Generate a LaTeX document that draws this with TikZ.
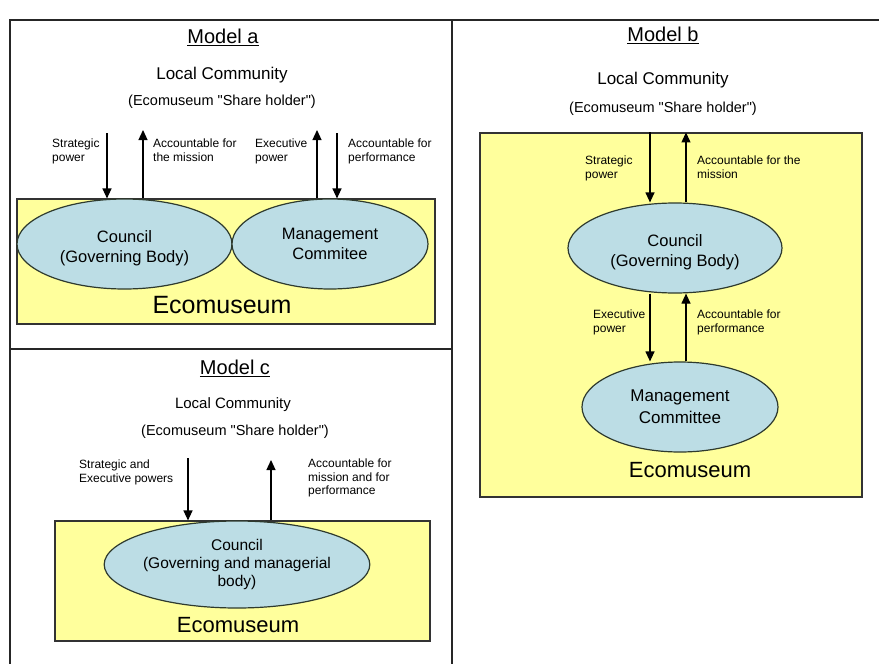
\documentclass[tikz,border=0pt]{standalone}
\usepackage{fontspec}
\setmainfont{Liberation Sans}
\usetikzlibrary{arrows.meta,shapes.geometric}
\definecolor{ecoyellow}{HTML}{FFFF9C}
\definecolor{bodyblue}{HTML}{BCDDE5}
\definecolor{bodyedge}{HTML}{2E3A2E}
\newcommand{\sq}{\textquotedbl}
% two centred lines set a little below the middle of an ellipse
\newcommand{\lowpair}[2]{\raisebox{-9pt}[0pt][0pt]{\parbox{150pt}{\centering #1\\#2}}}
\begin{document}
\begin{tikzpicture}[x=1pt,y=-1pt,
  frame/.style={line width=1.4pt, draw=black!85},
  yellowbox/.style={rectangle, draw=black!80, line width=1.1pt, fill=ecoyellow, inner sep=0pt},
  body/.style={ellipse, draw=bodyedge, line width=1.2pt, fill=bodyblue, inner sep=0pt, align=center,
    font=\fontsize{16.5}{20}\selectfont},
  flow/.style={-{Triangle[length=10pt,width=9pt]}, line width=1.2pt},
  note/.style={font=\fontsize{12}{13.5}\selectfont, align=left, anchor=north west, inner sep=0pt},
  modeltitle/.style={font=\fontsize{20}{24}\selectfont, inner sep=0pt},
  community/.style={font=\fontsize{17}{20}\selectfont, inner sep=0pt},
  holder/.style={font=\fontsize{14.5}{17}\selectfont, inner sep=0pt},
  eco/.style={font=\fontsize{22}{26}\selectfont, inner sep=0pt}]
\useasboundingbox (0,0) rectangle (879,664);

% panel frames
\draw[frame] (10,664) -- (10,20) -- (879,20);
\draw[frame] (452,20) -- (452,664);
\draw[frame] (10,349) -- (452,349);

% ---------------- Model a ----------------
\node[modeltitle] (ta) at (223,37) {\underline{Model a}};
\node[community] (lca) at (222,75) {Local Community};
\node[holder] (sha) at (222,102) {(Ecomuseum \sq Share holder\sq)};
\node[yellowbox, minimum width=418pt, minimum height=125pt] (ra) at (226,261.5) {};
\node[body, minimum width=215pt, minimum height=90pt] (ca) at (124.5,244) {\lowpair{Council}{(Governing Body)}};
\node[body, minimum width=196pt, minimum height=90pt] (ma) at (330,244) {Management\\Commitee};
\node[eco, font=\fontsize{25}{30}\selectfont] (ea) at (222,305) {Ecomuseum};
\coordinate (a1) at (107,133);
\coordinate (a2) at (143,130);
\coordinate (a3) at (317,130);
\coordinate (a4) at (337,133);
\draw[flow] (a1) -- (a1 |- ra.north);
\draw[flow] (a2 |- ra.north) -- (a2);
\draw[flow] (a3 |- ra.north) -- (a3);
\draw[flow] (a4) -- (a4 |- ra.north);
\node[note] (na1) at (52,139) {Strategic\\power};
\node[note] (na2) at (153,139) {Accountable for\\the mission};
\node[note] (na3) at (255,139) {Executive\\power};
\node[note] (na4) at (348,139) {Accountable for\\performance};

% ---------------- Model b ----------------
\node[modeltitle] (tb) at (663,35) {\underline{Model b}};
\node[community] (lcb) at (663,80) {Local Community};
\node[holder] (shb) at (663,109) {(Ecomuseum \sq Share holder\sq)};
\node[yellowbox, minimum width=382pt, minimum height=364pt] (rb) at (671,315) {};
\node[body, minimum width=214pt, minimum height=90pt] (cb) at (675,248) {\lowpair{Council}{(Governing Body)}};
\node[body, minimum width=196pt, minimum height=90pt, font=\fontsize{17}{22}\selectfont] (mb) at (680,407) {Management\\Committee};
\node[eco] (eb) at (690,470) {Ecomuseum};
\coordinate (b1) at (650,133);
\coordinate (b2) at (686,133);
\draw[flow] (b1 |- rb.north) -- (b1 |- cb.north);
\draw[flow] (b2 |- cb.north) -- (b2 |- rb.north);
\draw[flow] (b1 |- cb.south) -- (b1 |- mb.north);
\draw[flow] (b2 |- mb.north) -- (b2 |- cb.south);
\node[note] (nb1) at (585,156) {Strategic\\power};
\node[note] (nb2) at (697,156) {Accountable for the\\mission};
\node[note] (nb3) at (593,310) {Executive\\power};
\node[note] (nb4) at (697,310) {Accountable for\\performance};

% ---------------- Model c ----------------
\node[modeltitle] (tc) at (235,368) {\underline{Model c}};
\node[community, font=\fontsize{15}{18}\selectfont] (lcc) at (233,405) {Local Community};
\node[holder] (shc) at (235,432) {(Ecomuseum \sq Share holder\sq)};
\node[yellowbox, minimum width=375pt, minimum height=120pt] (rc) at (242.5,581) {};
\node[body, minimum width=210pt, minimum height=87pt, font=\fontsize{15.5}{18}\selectfont] (cc) at (237,564.5) {Council\\(Governing and managerial\\body)};
\node[eco] (ec) at (238,625) {Ecomuseum};
\coordinate (c1) at (188,458);
\coordinate (c2) at (271,460);
\draw[flow] (c1) -- (c1 |- rc.north);
\draw[flow] (c2 |- rc.north) -- (c2);
\node[note] (nc1) at (79,460) {Strategic and\\Executive powers};
\node[note] (nc2) at (308,459) {Accountable for\\mission and for\\performance};
\end{tikzpicture}
\end{document}
